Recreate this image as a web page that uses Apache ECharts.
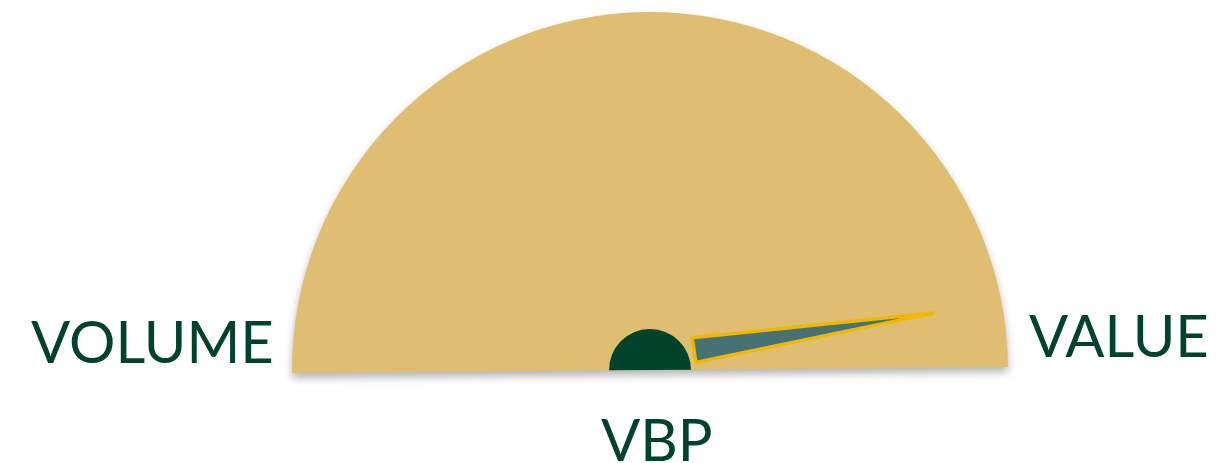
<!DOCTYPE html>
<html>
<head>
<meta charset="utf-8">
<script src="https://cdn.jsdelivr.net/npm/echarts@6/dist/echarts.min.js"></script>
<style>
  html, body { margin: 0; padding: 0; background: #fff; }
  #chart { width: 1226px; height: 463px; }
</style>
</head>
<body>
<div id="chart"></div>
<script>
// gauge data
const scaleRange = [0, 100];
const needleValue = [95.4];
const endLabels = ['VOLUME', 'VALUE'];
const centerLabel = ['VBP'];

const gold = '#DFBE72';
const darkGreen = '#00432A';

const chart = echarts.init(document.getElementById('chart'));

const hidden = {
  splitLine: { show: false },
  axisTick: { show: false },
  axisLabel: { show: false },
  title: { show: false },
  detail: { show: false }
};

const labelFont = '58px Lato';

chart.setOption({
  animation: false,
  series: [
    {
      type: 'gauge',
      center: [650, 370],
      radius: 358,
      startAngle: 180.5,
      endAngle: 0.5,
      min: scaleRange[0],
      max: scaleRange[1],
      axisLine: {
        lineStyle: {
          width: 358,
          color: [[1, gold]],
          shadowColor: 'rgba(0,0,0,0.3)',
          shadowBlur: 8,
          shadowOffsetY: 5
        }
      },
      pointer: {
        icon: 'triangle',
        width: 25,
        length: 242,
        offsetCenter: [-13, -46.5],
        itemStyle: {
          color: '#467274',
          borderColor: '#EFB700',
          borderWidth: 3.5,
          borderJoin: 'round'
        }
      },
      ...hidden,
      data: [{ value: needleValue[0] }]
    },
    {
      // dark green hub
      type: 'gauge',
      center: [650, 370],
      radius: 41,
      startAngle: 180.5,
      endAngle: 0.5,
      axisLine: { lineStyle: { width: 41, color: [[1, darkGreen]] } },
      pointer: { show: false },
      ...hidden,
      data: [{ value: 0 }]
    }
  ],
  graphic: [
    {
      type: 'text', left: 31, top: 315, z: 10,
      style: { text: endLabels[0], fill: darkGreen, font: labelFont }
    },
    {
      type: 'text', left: 1029, top: 309, z: 10,
      style: { text: endLabels[1], fill: darkGreen, font: labelFont }
    },
    {
      type: 'text', left: 601, top: 413, z: 10,
      style: { text: centerLabel[0], fill: darkGreen, font: labelFont }
    }
  ]
});
</script>
</body>
</html>
